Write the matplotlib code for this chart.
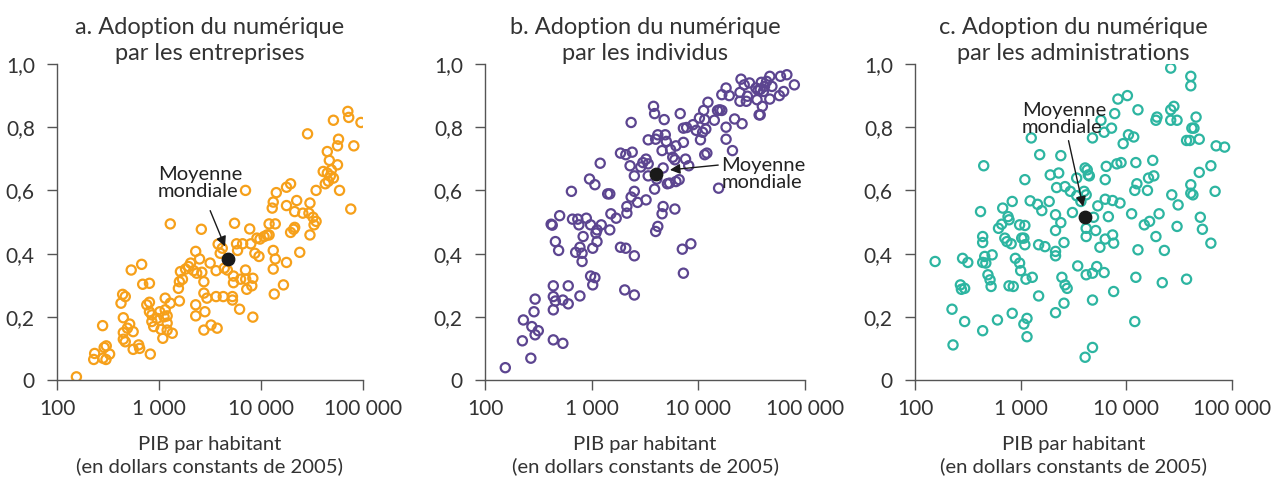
import matplotlib
matplotlib.use('Agg')
import numpy as np
import matplotlib.pyplot as plt
from matplotlib.ticker import FixedLocator, FixedFormatter

plt.rcParams['font.family'] = ['Lato', 'DejaVu Sans']

# a. entreprises : PIB par habitant, indice
gdp_a = [155, 234, 229, 280, 290, 304, 282, 302, 328, 424, 440, 467, 447, 447, 447, 467, 490, 516, 558, 534,
         558, 632, 646, 676, 692, 806, 759, 806, 822, 806, 851, 851, 887, 955, 1018, 1047, 1090, 1122, 1150, 1150,
         1202, 1202, 1202, 1290, 1349, 1290, 1550, 1585, 1585, 1622, 1698, 1820, 1950, 2042, 2188, 2290, 2290, 2290,
         2344, 2500, 2600, 2630, 2754, 2754, 2818, 2754, 2951, 3170, 3236, 3630, 3630, 3715, 3800, 3981, 4169, 4266,
         4365, 4677, 5248, 5248, 5370, 5370, 5500, 5754, 5888, 6166, 6310, 6607, 7050, 7050, 7080, 7244, 7750, 7943,
         8128, 8318, 8318, 8710, 9120, 9550, 9772, 10715, 11482, 12000, 12000, 12882, 13183, 13183, 13183, 13490,
         13800, 13800, 14125, 16600, 17780, 17780, 17780, 19500, 19500, 20890, 21380, 21380, 22387, 23990, 25704,
         28600, 29512, 30200, 30200, 32359, 33113, 34674, 34674, 40738, 42658, 44668, 44668, 45709, 46774, 47863,
         48978, 51286, 51286, 56234, 56234, 57544, 58884, 71000, 72444, 75858, 81283, 95499]
idx_a = [0.01, 0.084, 0.065, 0.172, 0.103, 0.108, 0.069, 0.065, 0.082, 0.243, 0.271, 0.264, 0.197, 0.150, 0.129,
         0.121, 0.164, 0.177, 0.153, 0.348, 0.097, 0.111, 0.100, 0.366, 0.303, 0.306, 0.238, 0.246, 0.082, 0.216,
         0.206, 0.185, 0.169, 0.195, 0.216, 0.160, 0.132, 0.200, 0.259, 0.222, 0.203, 0.180, 0.158, 0.494, 0.148,
         0.243, 0.290, 0.250, 0.311, 0.343, 0.319, 0.351, 0.359, 0.370, 0.346, 0.407, 0.238, 0.203, 0.338, 0.383,
         0.477, 0.341, 0.311, 0.275, 0.216, 0.158, 0.259, 0.370, 0.174, 0.346, 0.264, 0.164, 0.430, 0.401, 0.417,
         0.264, 0.354, 0.348, 0.253, 0.264, 0.329, 0.308, 0.496, 0.431, 0.410, 0.224, 0.319, 0.431, 0.600, 0.348,
         0.319, 0.287, 0.478, 0.431, 0.298, 0.322, 0.199, 0.401, 0.449, 0.391, 0.446, 0.454, 0.459, 0.494, 0.459,
         0.544, 0.563, 0.351, 0.410, 0.272, 0.494, 0.383, 0.593, 0.301, 0.610, 0.372, 0.552, 0.621, 0.467, 0.477,
         0.483, 0.533, 0.568, 0.404, 0.528, 0.779, 0.528, 0.560, 0.459, 0.515, 0.491, 0.502, 0.600, 0.660, 0.621,
         0.655, 0.723, 0.629, 0.695, 0.646, 0.665, 0.822, 0.639, 0.741, 0.681, 0.762, 0.600, 0.850, 0.831, 0.541,
         0.741, 0.815]

# b. individus
gdp_b = [155, 229, 224, 269, 275, 288, 295, 295, 316, 417, 427, 437, 437, 437, 437, 457, 457, 490, 501, 537,
         537, 603, 603, 646, 661, 708, 741, 759, 776, 776, 813, 813, 832, 891, 955, 977, 977, 1023, 1023, 1072,
         1072, 1096, 1122, 1122, 1202, 1230, 1413, 1479, 1479, 1514, 1698, 1862, 1862, 2042, 2089, 2089, 2138,
         2138, 2291, 2344, 2344, 2399, 2512, 2512, 2512, 2512, 2692, 2884, 3020, 3236, 3236, 3388, 3388, 3388,
         3890, 3802, 3890, 3981, 3981, 4074, 4169, 4169, 4571, 4677, 4677, 4571, 4786, 4898, 5012, 5129, 5370,
         5495, 5754, 6026, 6026, 6166, 6166, 6607, 6761, 7079, 7244, 7244, 7244, 7586, 7762, 8128, 8511, 8913,
         9550, 10233, 10471, 10965, 11220, 11482, 11482, 11749, 12023, 12303, 14125, 15136, 15488, 15849, 16596,
         16596, 18197, 18197, 18197, 19498, 20893, 21878, 24547, 24547, 25119, 25704, 26915, 28184, 28840, 30200,
         34674, 35481, 37154, 38019, 38905, 39811, 40738, 41687, 43652, 46774, 46774, 48978, 57544, 58884, 63096,
         67608, 79433, 36308, 38019]
idx_b = [0.039, 0.190, 0.124, 0.069, 0.169, 0.216, 0.256, 0.143, 0.156, 0.493, 0.490, 0.298, 0.264, 0.222,
         0.127, 0.250, 0.438, 0.410, 0.520, 0.116, 0.253, 0.298, 0.241, 0.597, 0.509, 0.404, 0.509, 0.491, 0.266,
         0.420, 0.401, 0.375, 0.454, 0.512, 0.636, 0.491, 0.329, 0.301, 0.417, 0.324, 0.618, 0.465, 0.475, 0.438,
         0.686, 0.491, 0.589, 0.589, 0.475, 0.526, 0.512, 0.718, 0.420, 0.285, 0.713, 0.417, 0.549, 0.528, 0.678,
         0.815, 0.579, 0.721, 0.646, 0.597, 0.393, 0.269, 0.562, 0.674, 0.688, 0.699, 0.570, 0.760, 0.684, 0.646,
         0.604, 0.866, 0.843, 0.762, 0.470, 0.636, 0.776, 0.486, 0.726, 0.671, 0.549, 0.526, 0.824, 0.776, 0.755,
         0.621, 0.623, 0.729, 0.705, 0.697, 0.541, 0.741, 0.628, 0.634, 0.843, 0.414, 0.797, 0.752, 0.338, 0.699,
         0.799, 0.678, 0.431, 0.808, 0.790, 0.829, 0.760, 0.784, 0.853, 0.824, 0.713, 0.794, 0.718, 0.879, 0.822,
         0.853, 0.607, 0.855, 0.853, 0.903, 0.924, 0.800, 0.762, 0.900, 0.726, 0.826, 0.910, 0.882, 0.952, 0.811,
         0.934, 0.882, 0.898, 0.940, 0.924, 0.887, 0.839, 0.919, 0.942, 0.866, 0.913, 0.929, 0.945, 0.961, 0.889,
         0.929, 0.900, 0.961, 0.913, 0.966, 0.934, 0.917, 0.839]

# c. administrations
gdp_c = [155, 224, 229, 269, 275, 282, 295, 295, 316, 417, 437, 437, 437, 447, 437, 457, 468, 490, 513, 525,
         537, 603, 617, 661, 676, 708, 741, 759, 776, 776, 813, 832, 832, 851, 891, 977, 977, 1000, 1023, 1072,
         1072, 1096, 1096, 1096, 1122, 1148, 1148, 1230, 1259, 1288, 1445, 1479, 1479, 1514, 1585, 1698, 1862,
         1905, 2138, 2138, 2138, 2138, 2138, 2188, 2291, 2399, 2399, 2455, 2570, 2570, 2630, 2630, 2754, 2951,
         3090, 3388, 3388, 3467, 3715, 3981, 4074, 4074, 4169, 4169, 4169, 4169, 4266, 4365, 4467, 4786, 4786,
         4786, 4786, 4898, 5129, 5248, 5370, 5623, 5754, 6166, 6166, 6310, 6310, 6310, 6457, 6761, 7244, 7413,
         7413, 7586, 7586, 7762, 8128, 8318, 8710, 8913, 9333, 10233, 10471, 11220, 11749, 12023, 12023, 12303,
         12303, 12589, 12882, 12882, 14791, 15849, 16218, 16596, 17783, 18197, 19055, 19055, 19498, 20417, 21878,
         22909, 26303, 26303, 26303, 26915, 28184, 30200, 30200, 30903, 37154, 37154, 39811, 40738, 40738, 40738,
         40738, 41687, 42658, 43652, 45709, 48978, 48978, 50119, 52481, 63096, 63096, 69183, 70795, 85114]
idx_c = [0.375, 0.224, 0.111, 0.301, 0.287, 0.385, 0.290, 0.185, 0.372, 0.533, 0.156, 0.435, 0.454, 0.678,
         0.372, 0.391, 0.370, 0.333, 0.317, 0.296, 0.396, 0.190, 0.480, 0.493, 0.544, 0.449, 0.438, 0.517, 0.507,
         0.298, 0.431, 0.565, 0.211, 0.296, 0.385, 0.491, 0.370, 0.346, 0.449, 0.449, 0.177, 0.489, 0.634, 0.428,
         0.319, 0.195, 0.137, 0.567, 0.766, 0.325, 0.556, 0.428, 0.266, 0.713, 0.536, 0.422, 0.565, 0.649, 0.523,
         0.473, 0.407, 0.393, 0.213, 0.609, 0.655, 0.498, 0.710, 0.325, 0.435, 0.243, 0.301, 0.612, 0.290, 0.597,
         0.530, 0.639, 0.583, 0.361, 0.565, 0.597, 0.671, 0.072, 0.333, 0.454, 0.480, 0.586, 0.665, 0.649, 0.646,
         0.253, 0.766, 0.103, 0.338, 0.515, 0.473, 0.359, 0.551, 0.420, 0.822, 0.784, 0.340, 0.446, 0.572, 0.634,
         0.676, 0.517, 0.797, 0.568, 0.459, 0.433, 0.280, 0.843, 0.684, 0.889, 0.560, 0.688, 0.748, 0.900, 0.776,
         0.526, 0.769, 0.600, 0.185, 0.688, 0.325, 0.621, 0.412, 0.855, 0.491, 0.600, 0.639, 0.502, 0.695, 0.646,
         0.822, 0.454, 0.832, 0.526, 0.308, 0.410, 0.822, 0.987, 0.855, 0.586, 0.866, 0.822, 0.486, 0.554, 0.758,
         0.319, 0.758, 0.961, 0.931, 0.591, 0.618, 0.797, 0.586, 0.797, 0.832, 0.657, 0.762, 0.515, 0.477, 0.678,
         0.433, 0.597, 0.741, 0.737]

# moyenne mondiale (PIB, indice)
mean_gdp = [4800, 4000, 4070]
mean_idx = [0.383, 0.652, 0.517]

titles = ['a. Adoption du numérique\npar les entreprises',
          'b. Adoption du numérique\npar les individus',
          'c. Adoption du numérique\npar les administrations']
colors = ['#F6A01A', '#5C4590', '#2DB5A1']

x_ticks = [100, 1000, 10000, 100000]
x_labels = ['100', '1 000', '10 000', '100 000']
y_ticks = [0, 0.2, 0.4, 0.6, 0.8, 1.0]
y_labels = ['0', '0,2', '0,4', '0,6', '0,8', '1,0']

# annotation: text position, arrow tail and head (PIB, indice)
note_xy = [(980, 0.623), (16500, 0.652), (1030, 0.827)]
tail_xy = [(3100, 0.544), (16300, 0.681), (2800, 0.766)]
head_xy = [(4550, 0.414), (5100, 0.664), (3950, 0.540)]

text_col = '#333333'
axis_col = '#555555'

fig = plt.figure(figsize=(12.84, 4.8), dpi=100)
boxes = [[57, 306], [485, 320], [915, 317]]
data = [(gdp_a, idx_a), (gdp_b, idx_b), (gdp_c, idx_c)]

for i in range(3):
    left, width = boxes[i]
    ax = fig.add_axes([left / 1284.0, 100 / 480.0, width / 1284.0, 316 / 480.0])
    gdp, idx = data[i]
    ax.scatter(gdp, idx, s=44, facecolors='none', edgecolors=colors[i], linewidths=1.6, zorder=2)
    ax.scatter([mean_gdp[i]], [mean_idx[i]], s=80, color='#1a1a1a', zorder=4)

    ax.annotate('', xy=head_xy[i], xytext=tail_xy[i],
                arrowprops=dict(arrowstyle='-|>', color='#1a1a1a', lw=1.0, mutation_scale=15), zorder=5)
    ax.text(note_xy[i][0], note_xy[i][1], 'Moyenne\nmondiale', ha='left', va='center',
            fontsize=14.5, color='#222222', linespacing=1.0, zorder=5)

    ax.set_xscale('log')
    ax.set_xlim(100, 100000)
    ax.set_ylim(0, 1.0)
    ax.xaxis.set_major_locator(FixedLocator(x_ticks))
    ax.xaxis.set_major_formatter(FixedFormatter(x_labels))
    ax.xaxis.set_minor_locator(FixedLocator([]))
    ax.set_yticks(y_ticks)
    ax.set_yticklabels(y_labels)

    for s in ['top', 'right']:
        ax.spines[s].set_visible(False)
    for s in ['left', 'bottom']:
        ax.spines[s].set_color(axis_col)
        ax.spines[s].set_linewidth(1.0)
    ax.tick_params(colors=axis_col, labelcolor=text_col, labelsize=15, length=7, width=1.0, direction='out')
    ax.tick_params(axis='x', pad=7)
    ax.tick_params(axis='y', pad=9)

    ax.set_title(titles[i], fontsize=17, color=text_col, pad=3, linespacing=1.3)
    ax.set_xlabel('PIB par habitant\n(en dollars constants de 2005)', fontsize=14.6,
                  color=text_col, labelpad=12, linespacing=1.3)

fig.savefig('out.png', dpi=100)
